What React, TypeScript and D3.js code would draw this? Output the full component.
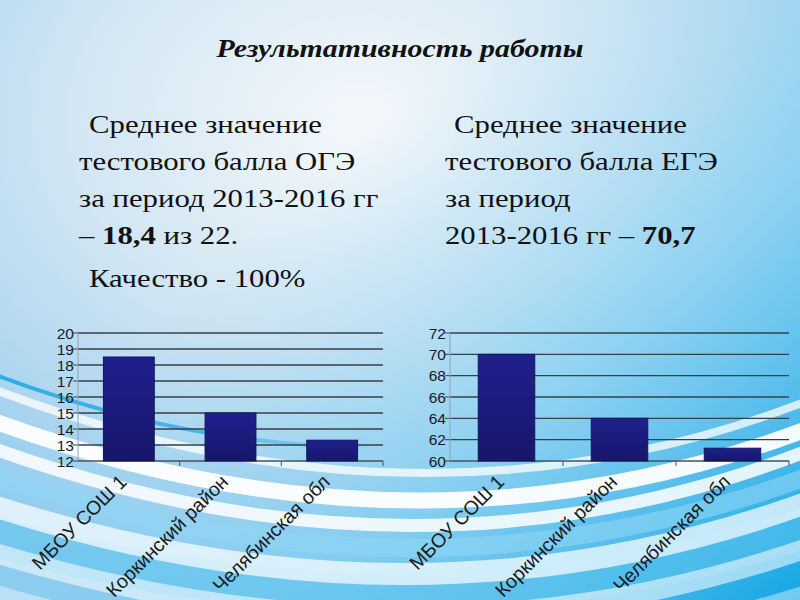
import * as React from "react";
import * as d3 from "d3";

const categories = ["МБОУ СОШ 1", "Коркинский район", "Челябинская обл"];
const ogeValues = [18.5, 15, 13.3];
const egeValues = [70, 64, 61.2];
const ogeTicks = [12, 13, 14, 15, 16, 17, 18, 19, 20];
const egeTicks = [60, 62, 64, 66, 68, 70, 72];

const leftText = [
  { x: 89, t: "Среднее значение" },
  { x: 79, t: "тестового балла ОГЭ" },
  { x: 79, t: "за период 2013-2016 гг" },
  { x: 79, t: "– ", b: "18,4", e: " из 22." },
  { x: 89, t: "Качество - 100%" },
];
const rightText = [
  { x: 454, t: "Среднее значение" },
  { x: 445, t: "тестового балла ЕГЭ" },
  { x: 445, t: "за период" },
  { x: 445, t: "2013-2016 гг  – ", b: "70,7", e: "" },
];
const lineY = [133, 170, 207, 244, 287];

// background swooshes: left y, control y, right y, width, colour, opacity
const swooshes = [
  { l: 530, c: 660, r: 520, w: 40, col: "#5cc4ee", o: 0.5 },
  { l: 365, c: 545, r: 330, w: 4, col: "url(#cyanFade)", o: 1 },
  { l: 380, c: 560, r: 392, w: 8, col: "#ffffff", o: 0.75 },
  { l: 412, c: 585, r: 420, w: 16, col: "#ffffff", o: 0.95 },
  { l: 440, c: 610, r: 442, w: 13, col: "#ffffff", o: 0.85 },
  { l: 468, c: 628, r: 468, w: 18, col: "#8fd6f5", o: 0.6 },
  { l: 498, c: 652, r: 494, w: 22, col: "#ffffff", o: 0.7 },
  { l: 545, c: 690, r: 540, w: 20, col: "#ffffff", o: 0.55 },
  { l: 585, c: 725, r: 585, w: 16, col: "#ffffff", o: 0.4 },
];

type ChartProps = {
  left: number;
  right: number;
  top: number;
  bottom: number;
  values: number[];
  ticks: number[];
};

const BarChart = ({ left, right, top, bottom, values, ticks }: ChartProps) => {
  const x = d3
    .scaleBand()
    .domain(categories)
    .range([left, right])
    .paddingInner(0.5)
    .paddingOuter(0.25);
  const y = d3
    .scaleLinear()
    .domain([ticks[0], ticks[ticks.length - 1]])
    .range([bottom, top]);
  const step = x.step();

  return (
    <g>
      {ticks.map((t) => (
        <g key={t}>
          {t !== ticks[0] && (
            <line x1={left} x2={right} y1={y(t)} y2={y(t)} stroke="#34404a" strokeWidth={1.3} />
          )}
          <line x1={left - 5} x2={left} y1={y(t)} y2={y(t)} stroke="#34404a" />
          <text
            x={left - 4}
            y={y(t)}
            dy="0.36em"
            textAnchor="end"
            fontFamily="Liberation Sans, Arial, sans-serif"
            fontSize={15.5}
            fill="#1a1a1a"
          >
            {t}
          </text>
        </g>
      ))}
      <line x1={left} x2={left} y1={top} y2={bottom} stroke="#8fa3b3" />
      <line x1={left} x2={right} y1={bottom} y2={bottom} stroke="#46525c" strokeWidth={1.3} />
      {categories.map((c, i) => (
        <line
          key={"t" + c}
          x1={left + step * (i + 1)}
          x2={left + step * (i + 1)}
          y1={bottom}
          y2={bottom + 5}
          stroke="#46525c"
        />
      ))}
      {values.map((v, i) => (
        <rect
          key={categories[i]}
          x={x(categories[i])}
          y={y(v)}
          width={x.bandwidth()}
          height={bottom - y(v)}
          fill="url(#barFill)"
          stroke="#14145a"
          strokeWidth={1}
        />
      ))}
      {categories.map((c) => {
        const cx = (x(c) || 0) + x.bandwidth() / 2;
        return (
          <text
            key={"l" + c}
            transform={`translate(${cx - 1},${bottom + 22}) rotate(-45)`}
            textAnchor="end"
            fontFamily="Liberation Sans, Arial, sans-serif"
            fontSize={19.5}
            fill="#1a1a1a"
          >
            {c}
          </text>
        );
      })}
    </g>
  );
};

const Paragraph = ({ rows }: { rows: { x: number; t: string; b?: string; e?: string }[] }) => (
  <g fontFamily="Liberation Serif, Times New Roman, serif" fontSize={25} fill="#111">
    {rows.map((r, i) => (
      <text key={i} transform={`translate(${r.x},${lineY[i]}) scale(1.23,1)`}>
        {r.t}
        {r.b && <tspan fontWeight="bold">{r.b}</tspan>}
        {r.e}
      </text>
    ))}
  </g>
);

export default function App() {
  return (
    <svg
      width={800}
      height={600}
      style={{ position: "absolute", left: 0, top: 0 }}
      viewBox="0 0 800 600"
    >
      <defs>
        <radialGradient id="bgTop" cx="0.45" cy="0.2" r="0.8">
          <stop offset="0" stopColor="#f4f8fb" />
          <stop offset="0.45" stopColor="#d2e6f3" />
          <stop offset="0.8" stopColor="#a9d4ef" />
          <stop offset="1" stopColor="#8ccbef" />
        </radialGradient>
        <linearGradient id="bgBottom" x1="0.3" y1="0.4" x2="1" y2="1">
          <stop offset="0" stopColor="#9fd6f3" stopOpacity={0} />
          <stop offset="0.5" stopColor="#6ccaf2" stopOpacity={0.55} />
          <stop offset="1" stopColor="#14a6e4" stopOpacity={1} />
        </linearGradient>
        <linearGradient id="cyanFade" gradientUnits="userSpaceOnUse" x1={0} y1={0} x2={380} y2={0}>
          <stop offset="0" stopColor="#1fa8e6" stopOpacity={0.9} />
          <stop offset="0.55" stopColor="#1fa8e6" stopOpacity={0.7} />
          <stop offset="1" stopColor="#1fa8e6" stopOpacity={0} />
        </linearGradient>
        <linearGradient id="barFill" x1="0" y1="0" x2="0" y2="1">
          <stop offset="0" stopColor="#20208e" />
          <stop offset="1" stopColor="#16166a" />
        </linearGradient>
      </defs>
      <rect width={800} height={600} fill="url(#bgTop)" />
      <rect width={800} height={600} fill="url(#bgBottom)" />
      <g fill="none">
        {swooshes.map((s, i) => (
          <path
            key={i}
            d={`M-30,${s.l} Q420,${s.c} 830,${s.r}`}
            stroke={s.col}
            strokeOpacity={s.o}
            strokeWidth={s.w}
          />
        ))}
      </g>

      <text
        transform="translate(400,57) scale(1.15,1)"
        textAnchor="middle"
        fontFamily="Liberation Serif, Times New Roman, serif"
        fontStyle="italic"
        fontWeight="bold"
        fontSize={26}
        fill="#111"
      >
        Результативность работы
      </text>
      <Paragraph rows={leftText} />
      <Paragraph rows={rightText} />

      <BarChart left={78} right={383} top={333} bottom={461} values={ogeValues} ticks={ogeTicks} />
      <BarChart left={450} right={789} top={333} bottom={461} values={egeValues} ticks={egeTicks} />
    </svg>
  );
}
